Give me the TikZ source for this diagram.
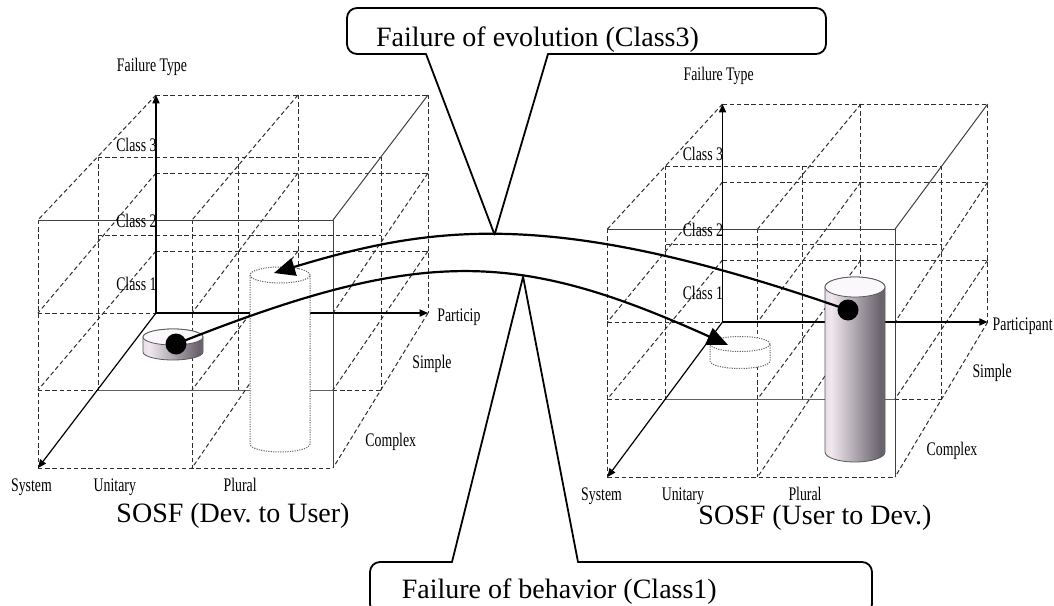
\documentclass[tikz,border=0pt]{standalone}
\usepackage{fontspec}
\setmainfont{Liberation Serif}
\newfontfamily\axisfont[FakeStretch=0.72]{Liberation Serif}
\usetikzlibrary{arrows.meta}

\definecolor{cylA}{RGB}{188,176,186}
\definecolor{cylB}{RGB}{240,232,238}
\definecolor{cylC}{RGB}{104,96,106}
\definecolor{cylD}{RGB}{212,204,210}
\definecolor{capface}{RGB}{250,248,250}
\pgfdeclarehorizontalshading{cylshade}{100bp}{color(0bp)=(cylA); color(30bp)=(cylB); color(72bp)=(cylC); color(100bp)=(cylD)}

\tikzset{
  gridline/.style={draw=black!82, line width=0.5pt, dash pattern=on 2.2pt off 1.4pt},
  overlapline/.style={draw=black!62, line width=0.5pt},
  cubeedge/.style={draw=black!75, line width=0.5pt},
  cubeaxis/.style={draw=black, line width=0.6pt, -{Triangle[length=4.2pt,width=3.6pt]}},
  smalllabel/.style={font={\axisfont\fontsize{9.6}{11}\selectfont}, inner sep=0pt},
  biglabel/.style={font={\fontsize{14}{16}\selectfont}, inner sep=0pt},
  flow/.style={draw=black, line width=1.1pt, -{Triangle[length=10.5pt,width=9pt]}},
  callout/.style={draw=black, line width=0.9pt, rounded corners=5pt, line cap=round},
  pointer/.style={draw=black, line width=0.9pt, line cap=round},
  dot/.style={circle, fill=black, minimum size=10.5pt, inner sep=0pt},
  shadedcyl/.style={shade, shading=cylshade, draw=black!65, line width=0.4pt},
  cylcap/.style={fill=capface, draw=black!65, line width=0.4pt},
  ghostline/.style={draw=black!60, line width=0.5pt, dash pattern=on 0.6pt off 0.6pt},
}

% One classification cube: #1 name prefix
\newcommand\sosfcube[1]{%
  % back plane
  \draw[gridline] (156,95) -- (428,95);
  \draw[gridline] (156,173) -- (428,173);
  \draw[gridline] (156,251) -- (428,251);
  \draw[gridline] (298,95) -- (298,313);
  \draw[gridline] (428,95) -- (428,313);
  % middle plane
  \draw[gridline] (98,157) -- (381,157);
  \draw[gridline] (98,235) -- (381,235);
  \draw[gridline] (98,157) -- (98,390);
  \draw[gridline] (238,157) -- (238,390);
  \draw[gridline] (381,157) -- (381,390);
  % front plane
  \draw[gridline] (38,220) -- (38,468);
  \draw[gridline] (192,220) -- (192,468);
  \draw[gridline] (38,313) -- (156,313);
  \draw[gridline] (38,390) -- (98,390);
  \draw[overlapline] (98,390) -- (333,390);
  \draw[gridline] (333,390) -- (381,390);
  \draw[gridline] (38,468) -- (333,468);
  \draw[cubeedge] (38,220) -- (333,220) -- (333,468);
  % depth lines
  \draw[gridline] (156,95) -- (38,220);
  \draw[gridline] (298,95) -- (192,220);
  \draw[cubeedge] (428,95) -- (333,220);
  \draw[gridline] (156,173) -- (38,313);
  \draw[gridline] (298,173) -- (192,313);
  \draw[gridline] (428,173) -- (333,313);
  \draw[gridline] (156,251) -- (38,390);
  \draw[gridline] (298,251) -- (192,390);
  \draw[gridline] (428,251) -- (333,390);
  \draw[gridline] (298,313) -- (192,468);
  \draw[gridline] (428,313) -- (333,468);
  % axes
  \coordinate (#1-o) at (156,313);
  \coordinate (#1-up) at (156,95);
  \coordinate (#1-right) at (428,313);
  \coordinate (#1-front) at (38,468);
  \draw[cubeaxis] (#1-o) -- (#1-up);
  \draw[cubeaxis] (#1-o) -- (#1-right);
  \draw[cubeaxis] (#1-o) -- (#1-front);
  % axis labels
  \node[smalllabel, anchor=base] (#1-type) at (152,71.7) {Failure Type};
  \node[smalllabel, anchor=base east] (#1-c3) at (157,151) {Class 3};
  \node[smalllabel, anchor=base east] (#1-c2) at (157,227.7) {Class 2};
  \node[smalllabel, anchor=base east] (#1-c1) at (157,290) {Class 1};
  \node[smalllabel, anchor=base west] (#1-simple) at (412,368.3) {Simple};
  \node[smalllabel, anchor=base west] (#1-complex) at (365,446.7) {Complex};
  \node[smalllabel, anchor=base west] (#1-system) at (10.7,491.7) {System};
  \node[smalllabel, anchor=base west] (#1-unitary) at (93.3,491.7) {Unitary};
  \node[smalllabel, anchor=base west] (#1-plural) at (223.3,491.7) {Plural};
}

\begin{document}
\begin{tikzpicture}[x=0.5pt, y=-0.5pt, line join=round]
\useasboundingbox (0,0) rectangle (1054,605);

% the two cubes
\sosfcube{L}
\node[smalllabel, anchor=base west] (L-part) at (437,321.7) {Particip};
\begin{scope}[shift={(722.5,322)}, xscale=0.975, shift={(-156,-313)}]
  \sosfcube{R}
\end{scope}
\node[smalllabel, anchor=base east] (R-part) at (1053,330.7) {Participant};

% left cube: flat shaded disk
\path[shadedcyl] (143,337) -- (143,352) arc[start angle=180,end angle=360,x radius=15pt,y radius=4pt]
  -- (203,337) arc[start angle=0,end angle=180,x radius=15pt,y radius=4pt] -- cycle;
\draw[cylcap] (173,337) ellipse[x radius=15pt,y radius=4pt];

% left cube: tall outlined cylinder
\fill[white] (250,275) -- (250,444) arc[start angle=180,end angle=360,x radius=15pt,y radius=4pt]
  -- (310,275) arc[start angle=0,end angle=180,x radius=15pt,y radius=4pt] -- cycle;
\draw[ghostline] (250,275) -- (250,444) arc[start angle=180,end angle=360,x radius=15pt,y radius=4pt] -- (310,275);
\draw[ghostline] (280,275) ellipse[x radius=15pt,y radius=4pt];

% right cube: tall shaded cylinder
\path[shadedcyl] (825,287) -- (825,452) arc[start angle=180,end angle=360,x radius=15pt,y radius=5pt]
  -- (885,287) arc[start angle=0,end angle=180,x radius=15pt,y radius=5pt] -- cycle;
\draw[cylcap] (855,287) ellipse[x radius=15pt,y radius=5pt];

% right cube: flat outlined disk
\fill[white] (710,344) -- (710,361) arc[start angle=180,end angle=360,x radius=15pt,y radius=3.75pt]
  -- (770,344) arc[start angle=0,end angle=180,x radius=15pt,y radius=3.75pt] -- cycle;
\draw[ghostline] (710,344) -- (710,361) arc[start angle=180,end angle=360,x radius=15pt,y radius=3.75pt] -- (770,344);
\draw[ghostline] (740,344) ellipse[x radius=15pt,y radius=3.75pt];

% markers and the two transitions
\node[dot] (dotL) at (176,344) {};
\node[dot] (dotR) at (848,310) {};
\coordinate (tallLtop) at (274,273);
\coordinate (diskRtop) at (728,345);

\draw[flow] (dotR.center) .. controls (553,207) and (433,225) .. (tallLtop) coordinate[pos=0.53] (evoTip);
\draw[flow] (dotL.center) .. controls (422,246) and (517,250) .. (diskRtop) coordinate[pos=0.62] (behTip);

% callouts
\draw[callout] (548,54) -- (826,54) -- (826,8) -- (347,8) -- (347,54) -- (426,54);
\draw[pointer] (426,54) -- (evoTip) -- (548,54);
\node[biglabel, anchor=base] (evo) at (537.5,46.7) {Failure of evolution (Class3)};

\draw[callout] (452,562) -- (370,562) -- (370,614) -- (872,614) -- (872,562) -- (578,562);
\draw[pointer] (452,562) -- (behTip) -- (578,562);
\node[biglabel, anchor=base] (beh) at (559.3,598.5) {Failure of behavior (Class1)};

% cube captions
\node[biglabel, anchor=base] (sosfL) at (233,522.7) {SOSF (Dev.\ to User)};
\node[biglabel, anchor=base] (sosfR) at (815,524) {SOSF (User to Dev.)};
\end{tikzpicture}
\end{document}
